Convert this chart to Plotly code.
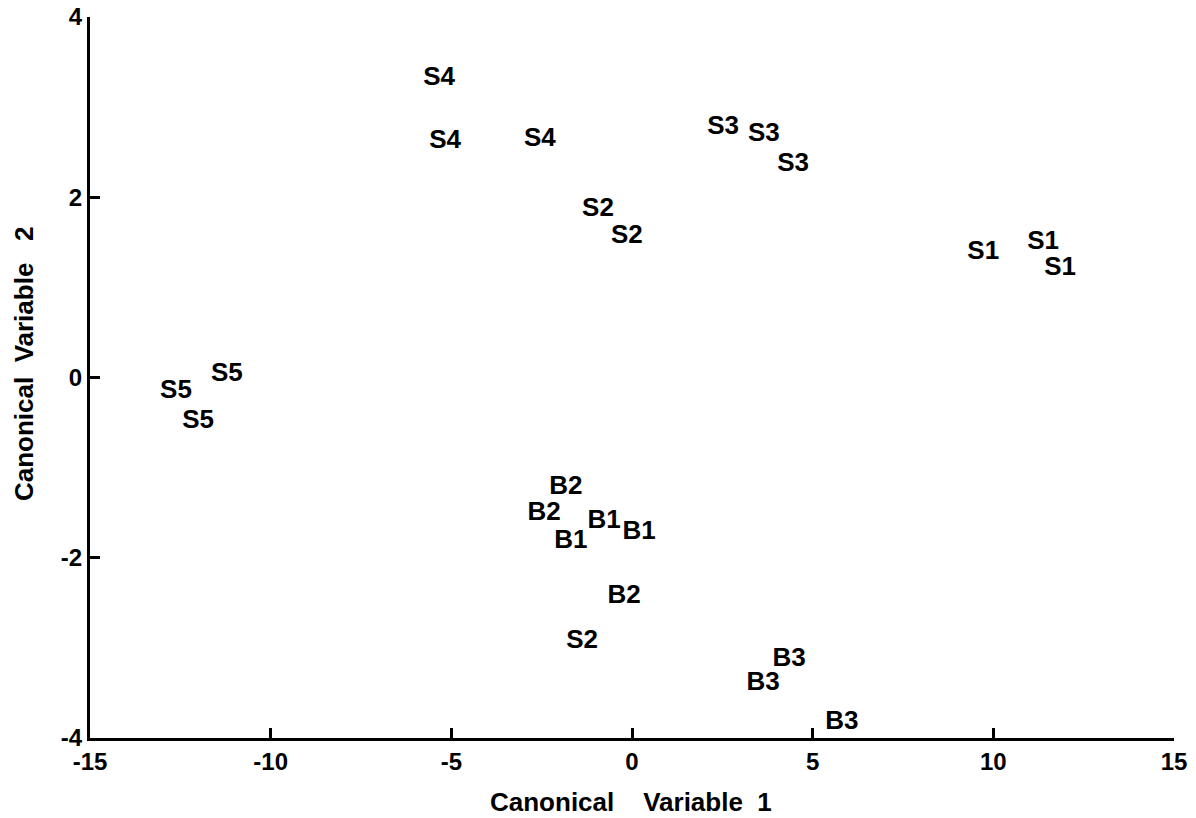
import plotly.graph_objects as go

# Group labels and canonical scores
labels = ["S4", "S4", "S4", "S3", "S3", "S3", "S2", "S2", "S1", "S1", "S1",
          "S5", "S5", "S5", "B2", "B2", "B1", "B1", "B1", "B2", "S2",
          "B3", "B3", "B3"]
cv1 = [-5.34, -5.17, -2.55, 2.52, 3.65, 4.46, -0.94, -0.14, 9.72, 11.38, 11.85,
       -11.21, -12.62, -12.01, -1.83, -2.43, -0.77, 0.20, -1.69, -0.22, -1.38,
       4.35, 3.63, 5.81]
cv2 = [3.32, 2.62, 2.64, 2.77, 2.70, 2.36, 1.86, 1.57, 1.39, 1.50, 1.21,
       0.03, -0.16, -0.49, -1.22, -1.51, -1.60, -1.72, -1.82, -2.43, -2.93,
       -3.13, -3.39, -3.83]

x_tickvals = [-15, -10, -5, 0, 5, 10, 15]
x_ticktext = ["-15", "-10", "-5", "0", "5", "10", "15"]
y_tickvals = [-4, -2, 0, 2, 4]
y_ticktext = ["-4", "-2", "0", "2", "4"]

FONT = "Liberation Sans, Arial, Helvetica, sans-serif"
NB = "\u00a0"

fig = go.Figure()
fig.add_trace(go.Scatter(
    x=cv1, y=cv2, text=labels, mode="text",
    textposition="middle center",
    textfont=dict(family=FONT, size=26, color="black", weight=700),
    hoverinfo="skip", showlegend=False, cliponaxis=False,
))

axis_common = dict(
    showgrid=False, zeroline=False, showline=True, linecolor="black",
    linewidth=3, ticks="inside", ticklen=10, tickwidth=3, tickcolor="black",
    mirror=False, automargin=False, ticklabeloverflow="allow",
    tickfont=dict(family=FONT, size=24, color="black", weight=700),
)

fig.update_layout(
    width=1196, height=818,
    margin=dict(l=90, r=22, t=17, b=80, autoexpand=False),
    paper_bgcolor="white", plot_bgcolor="white",
    xaxis=dict(range=[-15, 15], tickmode="array", tickvals=x_tickvals,
               ticktext=x_ticktext, **axis_common),
    yaxis=dict(range=[-4, 4], tickmode="array", tickvals=y_tickvals,
               ticktext=y_ticktext, **axis_common),
    annotations=[
        dict(text="Canonical" + NB * 4 + "Variable" + NB * 2 + "1",
             xref="paper", yref="paper",
             x=0.499, y=-0.0888, xanchor="center", yanchor="middle", showarrow=False,
             font=dict(family=FONT, size=26, color="black", weight=700)),
        dict(text="Canonical" + NB * 2 + "Variable" + NB * 3 + "2",
             xref="paper", yref="paper",
             x=-0.0609, y=0.520, xanchor="center", yanchor="middle", showarrow=False,
             textangle=-90,
             font=dict(family=FONT, size=26, color="black", weight=700)),
    ],
)

fig.write_html(
    "out.html",
    config={"displayModeBar": False, "staticPlot": True},
    post_script="document.body.style.margin='0';document.body.style.overflow='hidden';",
)
